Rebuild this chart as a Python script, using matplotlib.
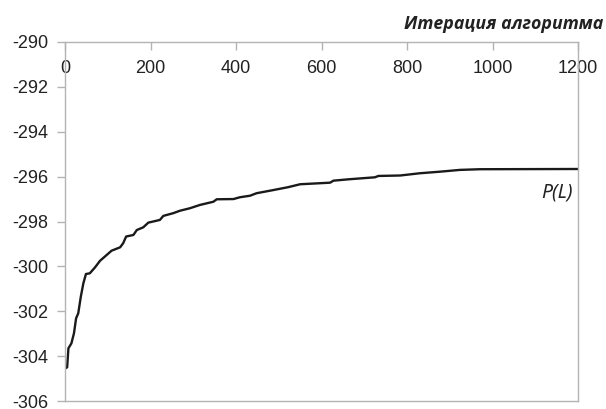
import matplotlib
matplotlib.use("Agg")
import matplotlib.pyplot as plt

iterations = [0, 5, 8, 15, 21, 26, 31, 37, 43, 49, 58, 70, 82, 97, 109, 129, 136, 143,
              160, 168, 183, 195, 222, 230, 253, 269, 292, 316, 347, 355, 394, 409, 433,
              448, 487, 522, 550, 620, 628, 663, 725, 733, 784, 807, 830, 877, 924, 971, 1200]
values = [-304.55, -304.5, -303.65, -303.43, -302.98, -302.31, -302.09, -301.35, -300.75,
          -300.34, -300.31, -300.05, -299.75, -299.5, -299.3, -299.15, -298.97, -298.67,
          -298.6, -298.38, -298.26, -298.05, -297.93, -297.75, -297.63, -297.52, -297.41,
          -297.26, -297.12, -297.01, -297.0, -296.92, -296.85, -296.74, -296.6, -296.47,
          -296.34, -296.27, -296.18, -296.12, -296.03, -295.97, -295.95, -295.9, -295.85,
          -295.78, -295.70, -295.67, -295.66]
x_ticks = [0, 200, 400, 600, 800, 1000, 1200]
y_ticks = [-306, -304, -302, -300, -298, -296, -294, -292, -290]

plt.rcParams['font.family'] = ['Liberation Sans', 'DejaVu Sans']

fig = plt.figure(figsize=(6.06, 4.09), dpi=100)
ax = fig.add_axes([65/606, 1-401/409, (578-65)/606, (401-42)/409])

ax.plot(iterations, values, color='#1a1a1a', lw=1.7)

ax.set_xlim(0, 1200)
ax.set_ylim(-306, -290)
ax.set_xticks(x_ticks)
ax.set_yticks(y_ticks)
ax.set_yticklabels([str(v) for v in y_ticks])

grey = '#b3b3b3'
ax.spines['bottom'].set_position(('data', -290))
ax.spines['top'].set_position(('data', -306))
for s in ax.spines.values():
    s.set_color(grey)
    s.set_linewidth(1.0)

ax.tick_params(axis='x', direction='out', length=5.8, width=1.0, color=grey,
               labelsize=13, labelcolor='#222222', pad=7.5)
ax.tick_params(axis='y', direction='out', length=5.8, width=1.0, color=grey,
               labelsize=13, labelcolor='#222222', pad=6)

fig.text(603/606, 1-24/409, 'Итерация алгоритма', ha='right', va='center',
         fontsize=12.8, fontweight='bold', fontstyle='italic', family=['Open Sans', 'DejaVu Sans'],
         color='#222222')
ax.text(1188, -296.7, 'P(L)', ha='right', va='center', fontsize=14, fontstyle='italic',
        family=['Noto Sans', 'DejaVu Sans'], color='#222222')

fig.savefig('out.png', dpi=100)
